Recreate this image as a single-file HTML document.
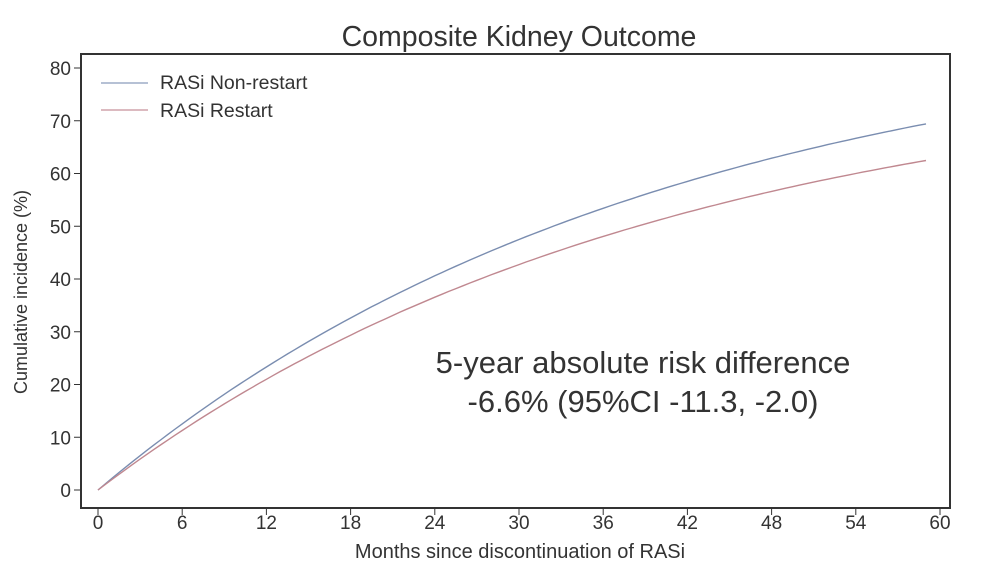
<!DOCTYPE html>
<html><head><meta charset="utf-8"><style>
body{margin:0;background:#fff;}
svg text{font-family:"Liberation Sans",sans-serif;fill:#333;}
</style></head><body>
<svg id="s" width="1000" height="576" xmlns="http://www.w3.org/2000/svg">
<rect width="1000" height="576" fill="#fff"/>
<text x="519" y="46" font-size="28.5" text-anchor="middle" fill="#222">Composite Kidney Outcome</text>
<rect x="81" y="54" width="869" height="454" fill="none" stroke="#333" stroke-width="2"/>
<g id="yt" font-size="19"></g>
<g id="xt" font-size="19"></g>
<text transform="translate(27,292) rotate(-90)" font-size="18" text-anchor="middle">Cumulative incidence (%)</text>
<text x="520" y="558" font-size="20" text-anchor="middle">Months since discontinuation of RASi</text>
<line x1="101" y1="83" x2="148" y2="83" stroke="#8a9cbc" stroke-width="1.3"/>
<text x="160" y="89" font-size="19.5">RASi Non-restart</text>
<line x1="101" y1="110" x2="148" y2="110" stroke="#c8909a" stroke-width="1.3"/>
<text x="160" y="117" font-size="19.5">RASi Restart</text>
<path id="pb" fill="none" stroke="#7a8db0" stroke-width="1.4"/>
<path id="pr" fill="none" stroke="#c08890" stroke-width="1.4"/>
<text x="643" y="373" font-size="31" text-anchor="middle" fill="#444">5-year absolute risk difference</text>
<text x="643" y="412" font-size="31" text-anchor="middle" fill="#444">-6.6% (95%CI -11.3, -2.0)</text>
</svg>
<script>
var X=function(t){return 98+t*(940-98)/60}, Y=function(v){return 490-v*5.275};
var yt=document.getElementById('yt'),xt=document.getElementById('xt'),h='';
for(var v=0;v<=80;v+=10){h+='<line x1="74" x2="81" y1="'+Y(v)+'" y2="'+Y(v)+'" stroke="#333"/><text x="71" y="'+(Y(v)+7)+'" text-anchor="end">'+v+'</text>';}
yt.innerHTML=h;h='';
for(var t=0;t<=60;t+=6){h+='<line x1="'+X(t)+'" x2="'+X(t)+'" y1="508" y2="515" stroke="#333"/><text x="'+X(t)+'" y="529" text-anchor="middle">'+t+'</text>';}
xt.innerHTML=h;
function p(A){var d='';for(var t=0;t<=59;t+=0.5){d+=(t?'L':'M')+X(t).toFixed(1)+','+Y(A*(1-Math.exp(-t/40))).toFixed(1);}return d;}
document.getElementById('pb').setAttribute('d',p(90));
document.getElementById('pr').setAttribute('d',p(81));
</script>
</body></html>
